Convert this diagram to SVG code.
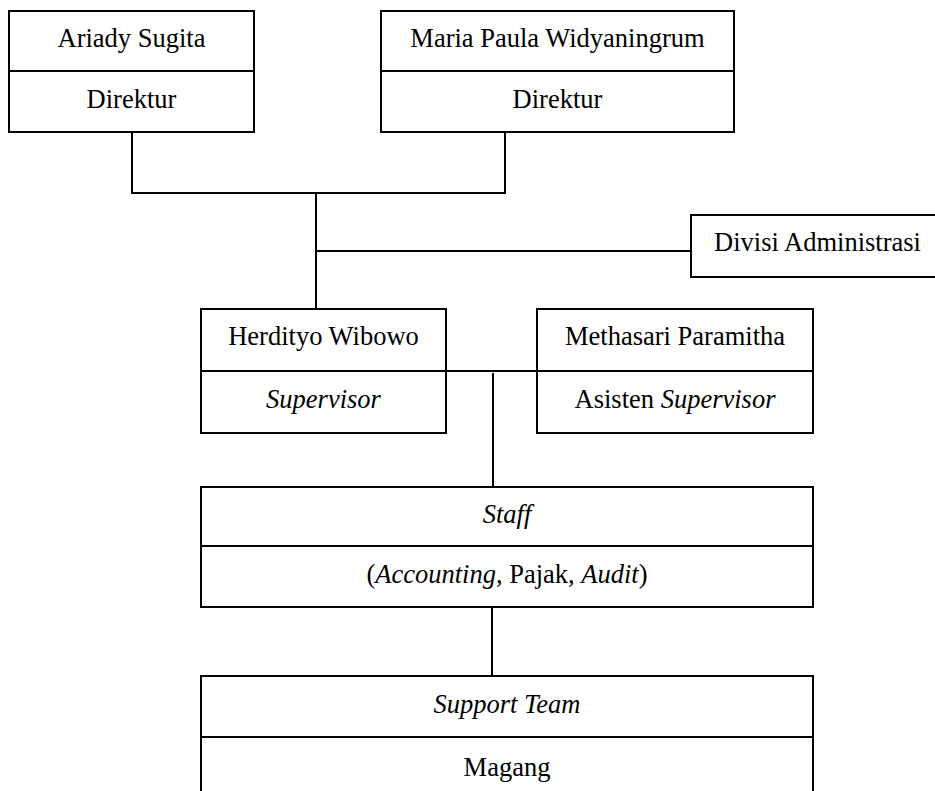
<svg xmlns="http://www.w3.org/2000/svg" width="935" height="791" viewBox="0 0 935 791">
<style>
rect,line{stroke:#000;stroke-width:2;fill:none}
rect{fill:#fff}
text{font-family:"Liberation Serif","Times New Roman",serif;font-size:26.5px;fill:#000;text-anchor:middle}
.i{font-style:italic}
</style>
<rect x="0" y="0" width="935" height="791" style="stroke:none;fill:#fff"/>
<g id="connectors">
<line x1="132" y1="132" x2="132" y2="193"/>
<line x1="505" y1="132" x2="505" y2="193"/>
<line x1="131" y1="193" x2="506" y2="193"/>
<line x1="316" y1="193" x2="316" y2="309"/>
<line x1="316" y1="251" x2="691" y2="251"/>
<line x1="446" y1="371" x2="537" y2="371"/>
<line x1="493" y1="373" x2="493" y2="487"/>
<line x1="492" y1="607" x2="492" y2="676"/>
</g>
<g id="ariady">
<rect x="9" y="11" width="245" height="121"/>
<line x1="9" y1="71" x2="254" y2="71"/>
<text x="131.5" y="47">Ariady Sugita</text>
<text x="131.5" y="108">Direktur</text>
</g>
<g id="maria">
<rect x="381" y="11" width="353" height="121"/>
<line x1="381" y1="71" x2="734" y2="71"/>
<text x="557.5" y="47">Maria Paula Widyaningrum</text>
<text x="557.5" y="108">Direktur</text>
</g>
<g id="divisi">
<rect x="691" y="215" width="260" height="62"/>
<text x="817.5" y="251">Divisi Administrasi</text>
</g>
<g id="herdityo">
<rect x="201" y="309" width="245" height="124"/>
<line x1="201" y1="371" x2="446" y2="371"/>
<text x="323.5" y="345">Herdityo Wibowo</text>
<text x="323.5" y="408" class="i">Supervisor</text>
</g>
<g id="methasari">
<rect x="537" y="309" width="276" height="124"/>
<line x1="537" y1="371" x2="813" y2="371"/>
<text x="675" y="345">Methasari Paramitha</text>
<text x="675" y="408">Asisten <tspan class="i">Supervisor</tspan></text>
</g>
<g id="staff">
<rect x="201" y="487" width="612" height="120"/>
<line x1="201" y1="546" x2="813" y2="546"/>
<text x="507" y="523" class="i">Staff</text>
<text x="507" y="583">(<tspan class="i">Accounting</tspan>, Pajak, <tspan class="i">Audit</tspan>)</text>
</g>
<g id="support">
<rect x="201" y="676" width="612" height="124"/>
<line x1="201" y1="737" x2="813" y2="737"/>
<text x="507" y="713" class="i">Support Team</text>
<text x="507" y="776">Magang</text>
</g>
</svg>
